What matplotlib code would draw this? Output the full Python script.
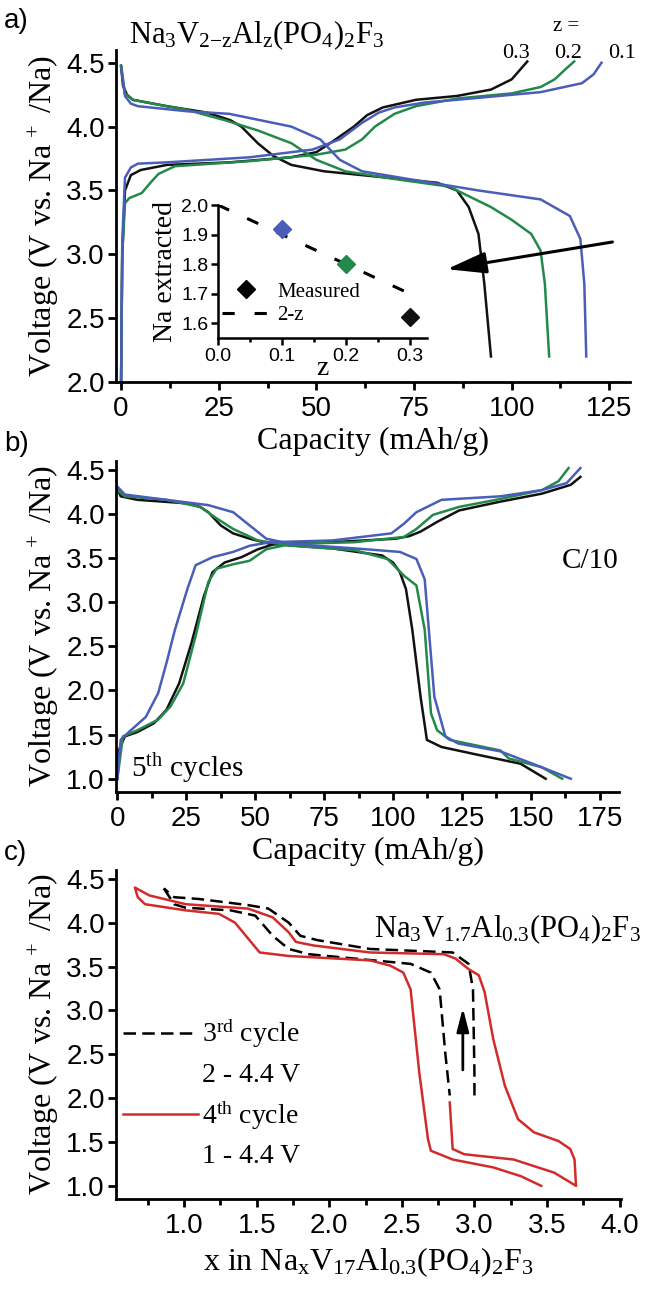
import matplotlib
matplotlib.use("Agg")
import matplotlib.pyplot as plt
from matplotlib.lines import Line2D
from matplotlib.ticker import MultipleLocator, FormatStrFormatter

plt.rcParams['font.family'] = ['Liberation Sans', 'DejaVu Sans']
plt.rcParams['mathtext.fontset'] = 'custom'
plt.rcParams['mathtext.rm'] = 'Liberation Serif'
plt.rcParams['mathtext.it'] = 'Liberation Serif'
plt.rcParams['mathtext.bf'] = 'Liberation Serif:bold'
SERIF = 'Liberation Serif'

BLACK = '#111111'
GREEN = '#23894a'
BLUE = '#4a5db8'
RED = '#d22b2b'

# %% Datos panel a: Na3V2-zAlz(PO4)2F3, capacidad (mAh/g) vs voltaje (V)
a_z03_chg_x = [0, 0.3, 1.0, 2.5, 5, 11.7, 27.7, 43.6, 50, 54, 59.6, 63, 67, 75.5, 86, 94.7, 100, 104]
a_z03_chg_y = [2.0, 3.0, 3.5, 3.62, 3.66, 3.70, 3.72, 3.76, 3.80, 3.88, 4.0, 4.09, 4.15, 4.21, 4.24, 4.29, 4.37, 4.51]
a_z02_chg_x = [0, 0.3, 1.0, 2.1, 5.3, 7.5, 9.6, 13.8, 33, 50, 57.4, 61.7, 65, 70, 75.5, 86, 100, 107.4, 111, 113.8, 116]
a_z02_chg_y = [2.0, 3.0, 3.40, 3.44, 3.48, 3.56, 3.63, 3.69, 3.73, 3.78, 3.82, 3.9, 4.0, 4.1, 4.16, 4.22, 4.26, 4.31, 4.37, 4.45, 4.51]
a_z01_chg_x = [0, 0.3, 1.0, 2.5, 4.3, 11.7, 33, 49, 56, 61.7, 66, 70, 78, 86, 107.4, 118, 121, 123]
a_z01_chg_y = [2.0, 3.1, 3.6, 3.68, 3.71, 3.72, 3.76, 3.82, 3.9, 4.03, 4.11, 4.15, 4.19, 4.21, 4.27, 4.34, 4.41, 4.5]

a_z03_dis_x = [0, 0.5, 1.5, 3, 11.7, 22, 28, 30.8, 35, 39, 43.6, 52, 65, 81, 86, 89, 91.5, 93, 94.7]
a_z03_dis_y = [4.47, 4.32, 4.25, 4.21, 4.16, 4.11, 4.05, 4.0, 3.87, 3.77, 3.70, 3.65, 3.61, 3.56, 3.50, 3.37, 3.16, 2.77, 2.2]
a_z02_dis_x = [0, 1, 3, 6.4, 17, 26.6, 35, 43.6, 50, 57.4, 70, 84, 94.7, 100, 105, 107.4, 108.5, 109.6]
a_z02_dis_y = [4.48, 4.26, 4.21, 4.19, 4.13, 4.05, 3.97, 3.87, 3.74, 3.65, 3.59, 3.53, 3.37, 3.27, 3.16, 3.03, 2.77, 2.2]
a_z01_dis_x = [0, 1, 2.5, 4.3, 17, 27.7, 43.6, 51, 56, 61.7, 75.5, 91.5, 107.4, 114.9, 117.6, 118.6, 119.1]
a_z01_dis_y = [4.47, 4.24, 4.18, 4.16, 4.12, 4.10, 4.0, 3.9, 3.74, 3.65, 3.58, 3.50, 3.43, 3.30, 3.12, 2.77, 2.2]

# Inset: Na extraido vs z
z_vals = [0.1, 0.2, 0.3]
na_extracted = [1.92, 1.80, 1.62]
z_colors = [BLUE, GREEN, BLACK]
z_line = [0.0, 0.3]
na_line = [2.0, 1.7]

# %% Datos panel b: 5o ciclo, C/10
b_z03_chg_x = [0, 0.5, 2.7, 7.3, 13.3, 17.8, 22.4, 26.9, 31.4, 34.5, 38.9, 45, 51, 57, 78, 101, 106, 110, 116, 124, 139, 154, 164.5, 168]
b_z03_chg_y = [1.0, 1.32, 1.48, 1.53, 1.63, 1.78, 2.08, 2.54, 3.07, 3.34, 3.45, 3.51, 3.60, 3.66, 3.68, 3.72, 3.75, 3.80, 3.91, 4.04, 4.14, 4.23, 4.33, 4.42]
b_z02_chg_x = [0, 2, 7.3, 14.8, 19.3, 23.9, 28.4, 33, 36, 42, 48, 54, 63, 86, 104, 108.5, 114.5, 124, 139, 154, 160, 163.7]
b_z02_chg_y = [1.0, 1.48, 1.55, 1.67, 1.82, 2.08, 2.62, 3.23, 3.38, 3.43, 3.47, 3.60, 3.66, 3.68, 3.74, 3.83, 3.99, 4.08, 4.17, 4.27, 4.37, 4.52]
b_z01_chg_x = [0, 1.2, 4.2, 10.3, 14.8, 17.8, 20.9, 25.4, 28.4, 34.5, 42, 48, 55.6, 78, 99.4, 104, 108.5, 117.6, 139, 154, 163, 168]
b_z01_chg_y = [1.0, 1.44, 1.53, 1.70, 1.97, 2.31, 2.69, 3.15, 3.42, 3.51, 3.57, 3.64, 3.68, 3.70, 3.78, 3.89, 4.02, 4.16, 4.20, 4.27, 4.35, 4.52]

b_z03_dis_x = [0, 1.2, 7.3, 25.4, 30, 33, 37.5, 42, 48, 55.6, 78, 96, 100, 102.5, 104.7, 107, 110, 112.3, 117.6, 131, 146.3, 155.4]
b_z03_dis_y = [4.29, 4.20, 4.16, 4.12, 4.08, 4.02, 3.87, 3.78, 3.72, 3.66, 3.61, 3.53, 3.45, 3.34, 3.15, 2.69, 1.93, 1.44, 1.36, 1.27, 1.17, 1.0]
b_z02_dis_x = [0, 2.7, 17.8, 30, 36, 42, 51, 63, 86, 98, 104, 108.5, 111.5, 113.8, 116, 120.6, 139, 142, 154, 161.4]
b_z02_dis_y = [4.27, 4.20, 4.16, 4.08, 3.95, 3.83, 3.70, 3.64, 3.59, 3.49, 3.30, 3.19, 2.69, 1.74, 1.55, 1.44, 1.32, 1.23, 1.13, 1.0]
b_z01_dis_x = [0, 2.7, 17.8, 33, 42, 48, 54, 63, 86, 102.5, 108.5, 111.5, 113, 115, 119, 123.6, 139, 154, 164.5]
b_z01_dis_y = [4.31, 4.22, 4.16, 4.10, 4.02, 3.87, 3.72, 3.66, 3.61, 3.57, 3.49, 3.26, 2.69, 1.93, 1.48, 1.40, 1.31, 1.13, 1.0]

# %% Datos panel c: x en NaxV1.7Al0.3(PO4)2F3
c3_chg_x = [3.0, 3.0, 2.99, 2.96, 2.85, 2.28, 1.92, 1.80, 1.72, 1.58, 1.44, 1.10, 0.93, 0.86]
c3_chg_y = [2.03, 2.29, 3.24, 3.53, 3.66, 3.70, 3.80, 3.85, 4.0, 4.16, 4.20, 4.27, 4.29, 4.39]
c3_dis_x = [0.86, 0.93, 1.01, 1.32, 1.49, 1.61, 1.72, 1.86, 2.56, 2.70, 2.76, 2.80, 2.83]
c3_dis_y = [4.39, 4.21, 4.17, 4.14, 4.08, 3.85, 3.70, 3.64, 3.53, 3.43, 3.24, 2.50, 2.03]
c4_x = [2.83, 2.85, 2.93, 3.27, 3.55, 3.70, 3.69, 3.66, 3.58, 3.41, 3.30, 3.21, 3.13, 3.07, 3.03,
        2.96, 2.87, 2.79, 2.28, 1.89, 1.77, 1.72, 1.61, 1.44, 1.01, 0.76, 0.66, 0.68, 0.73, 1.01,
        1.24, 1.35, 1.44, 1.52, 1.72, 2.28, 2.42, 2.51, 2.56, 2.62, 2.68, 2.70, 2.85, 3.13, 3.32, 3.46]
c4_y = [1.95, 1.42, 1.36, 1.30, 1.15, 1.0, 1.30, 1.42, 1.51, 1.61, 1.76, 2.14, 2.67, 3.21, 3.40,
        3.47, 3.59, 3.64, 3.66, 3.74, 3.78, 3.89, 4.06, 4.16, 4.21, 4.31, 4.40, 4.29, 4.21, 4.14,
        4.10, 4.0, 3.82, 3.66, 3.62, 3.57, 3.51, 3.43, 3.24, 2.29, 1.53, 1.40, 1.30, 1.21, 1.11, 1.0]

# Flechas (anotaciones)
arrow_a = ((126.5, 3.10), (82.7, 2.88))
arrow_c = ((2.92, 2.29), (2.92, 3.06))

LW = 1.8
DASH = (0, (5, 2.5))


def estilo(ax, xmaj, xmin, xfmt, yfmt, labelsize=20):
    for s in ['top', 'right']:
        ax.spines[s].set_visible(False)
    for s in ['left', 'bottom']:
        ax.spines[s].set_linewidth(2)
    ax.tick_params(which='major', direction='out', length=6, width=2, labelsize=labelsize)
    ax.tick_params(which='minor', direction='out', length=4, width=2)
    ax.tick_params(axis='x', pad=4)
    ax.tick_params(axis='y', pad=2)
    ax.xaxis.set_major_locator(MultipleLocator(xmaj))
    ax.xaxis.set_minor_locator(MultipleLocator(xmin))
    ax.yaxis.set_major_locator(MultipleLocator(0.5))
    ax.xaxis.set_major_formatter(FormatStrFormatter(xfmt))
    ax.yaxis.set_major_formatter(FormatStrFormatter(yfmt))


W, H = 652, 1289
fig = plt.figure(figsize=(W / 100, H / 100), dpi=100)

# %% Panel a
ax_a = fig.add_axes([116 / W, 1 - 382 / H, 514 / W, 332 / H])
ax_a.plot(a_z03_chg_x, a_z03_chg_y, color=BLACK, lw=LW)
ax_a.plot(a_z03_dis_x, a_z03_dis_y, color=BLACK, lw=LW)
ax_a.plot(a_z02_chg_x, a_z02_chg_y, color=GREEN, lw=LW)
ax_a.plot(a_z02_dis_x, a_z02_dis_y, color=GREEN, lw=LW)
ax_a.plot(a_z01_chg_x, a_z01_chg_y, color=BLUE, lw=LW)
ax_a.plot(a_z01_dis_x, a_z01_dis_y, color=BLUE, lw=LW)
ax_a.set_xlim(-1.3, 130.3)
ax_a.set_ylim(2.0, 4.6)
estilo(ax_a, 25, 12.5, '%d', '%.1f')
ax_a.set_xlabel('Capacity (mAh/g)', fontfamily=SERIF, fontsize=23)
ax_a.set_ylabel('Voltage (V vs. Na$^{\\,+}$ /Na)', fontfamily=SERIF, fontsize=23)
ax_a.xaxis.set_label_coords(0.5, -0.135)
ax_a.yaxis.set_label_coords(-0.107, 0.5)
ax_a.text(2.0, 4.655, 'Na$_3$V$_{2{-}z}$Al$_z$(PO$_4$)$_2$F$_3$', fontfamily=SERIF,
          fontsize=22, va='baseline', clip_on=False)
ax_a.text(114, 4.75, 'z =', fontfamily=SERIF, fontsize=15, ha='center', va='baseline', clip_on=False)
for xt, lab in zip([101.1, 114.4, 128.3], ['0.3', '0.2', '0.1']):
    ax_a.text(xt, 4.537, lab, fontfamily=SERIF, fontsize=16, ha='center', va='baseline', clip_on=False)
ax_a.annotate('', xy=arrow_a[1], xytext=arrow_a[0],
              arrowprops=dict(arrowstyle='-|>,head_length=1.1,head_width=0.3',
                              mutation_scale=22, lw=2.2, color='k'))

# Inset
ins = fig.add_axes([218 / W, 1 - 338 / H, 209 / W, 133 / H])
ins.patch.set_alpha(0)
ins.plot(z_line, na_line, color='k', lw=2.2, linestyle=(0, (4, 6.5)), label='2-z')
for zv, nv, cc in zip(z_vals, na_extracted, z_colors):
    ins.plot(zv, nv, marker='D', ms=9.5, color=cc, linestyle='none')
ins.set_xlim(0, 0.327)
ins.set_ylim(1.55, 2.0)
for s in ['top', 'right']:
    ins.spines[s].set_visible(False)
for s in ['left', 'bottom']:
    ins.spines[s].set_linewidth(1.8)
ins.tick_params(which='major', direction='out', length=5, width=1.8, labelsize=14, pad=2)
ins.tick_params(which='minor', direction='out', length=3, width=1.8)
ins.xaxis.set_major_locator(MultipleLocator(0.1))
ins.xaxis.set_minor_locator(MultipleLocator(0.05))
ins.yaxis.set_major_locator(MultipleLocator(0.1))
ins.xaxis.set_major_formatter(FormatStrFormatter('%.1f'))
ins.yaxis.set_major_formatter(FormatStrFormatter('%.1f'))
ins.set_xlabel('z', fontfamily=SERIF, fontsize=20, labelpad=-6)
ins.set_ylabel('Na extracted', fontfamily=SERIF, fontsize=20, labelpad=2)
h_meas = Line2D([], [], marker='D', ms=9.5, color='k', linestyle='none')
h_line = Line2D([], [], color='k', lw=2.2, linestyle=(0, (4, 6.5)))
ins.legend([h_meas, h_line], ['Measured', '2-z'], loc='upper left', bbox_to_anchor=(0.02, 0.42),
           frameon=False, prop={'family': SERIF, 'size': 15}, handlelength=2.3,
           handletextpad=0.35, borderpad=0, borderaxespad=0, labelspacing=0.2)

# %% Panel b
ax_b = fig.add_axes([116 / W, 1 - 792 / H, 503 / W, 331 / H])
ax_b.plot(b_z03_chg_x, b_z03_chg_y, color=BLACK, lw=LW)
ax_b.plot(b_z03_dis_x, b_z03_dis_y, color=BLACK, lw=LW)
ax_b.plot(b_z02_chg_x, b_z02_chg_y, color=GREEN, lw=LW)
ax_b.plot(b_z02_dis_x, b_z02_dis_y, color=GREEN, lw=LW)
ax_b.plot(b_z01_chg_x, b_z01_chg_y, color=BLUE, lw=LW)
ax_b.plot(b_z01_dis_x, b_z01_dis_y, color=BLUE, lw=LW)
ax_b.set_xlim(-0.5, 182)
ax_b.set_ylim(0.85, 4.6)
estilo(ax_b, 25, 12.5, '%d', '%.1f')
ax_b.set_xlabel('Capacity (mAh/g)', fontfamily=SERIF, fontsize=23)
ax_b.set_ylabel('Voltage (V vs. Na$^{\\,+}$ /Na)', fontfamily=SERIF, fontsize=23)
ax_b.xaxis.set_label_coords(0.5, -0.135)
ax_b.yaxis.set_label_coords(-0.109, 0.5)
ax_b.text(161.2, 3.39, 'C/10', fontfamily=SERIF, fontsize=21, va='baseline')
ax_b.text(4.9, 1.02, '5$^{\\mathrm{th}}$ cycles', fontfamily=SERIF, fontsize=21, va='baseline')

# %% Panel c
ax_c = fig.add_axes([116 / W, 1 - 1199 / H, 505 / W, 329 / H])
ax_c.plot(c3_chg_x, c3_chg_y, color='k', lw=LW, linestyle=DASH)
ax_c.plot(c3_dis_x, c3_dis_y, color='k', lw=LW, linestyle=DASH)
ax_c.plot(c4_x, c4_y, color=RED, lw=LW)
ax_c.set_xlim(0.53, 4.01)
ax_c.set_ylim(0.85, 4.6)
estilo(ax_c, 0.5, 0.25, '%.1f', '%.1f')
ax_c.set_xlabel('x in Na$_x$V$_{17}$Al$_{0.3}$(PO$_4$)$_2$F$_3$', fontfamily=SERIF, fontsize=23)
ax_c.set_ylabel('Voltage (V vs. Na$^{\\,+}$ /Na)', fontfamily=SERIF, fontsize=23)
ax_c.xaxis.set_label_coords(0.5, -0.14)
ax_c.yaxis.set_label_coords(-0.109, 0.5)
ax_c.text(4.15, 3.836, 'Na$_3$V$_{1.7}$Al$_{0.3}$(PO$_4$)$_2$F$_3$', fontfamily=SERIF,
          fontsize=22, ha='right', va='baseline', clip_on=False)
ax_c.annotate('', xy=arrow_c[1], xytext=arrow_c[0],
              arrowprops=dict(arrowstyle='-|>,head_length=0.7,head_width=0.18',
                              mutation_scale=20, lw=2, color='k'))
h3 = Line2D([], [], color='k', lw=LW, linestyle=DASH)
h4 = Line2D([], [], color=RED, lw=LW)
hb = Line2D([], [], color='none')
ax_c.legend([h3, hb, h4, hb], ['3$^{\\mathrm{rd}}$ cycle', '2 - 4.4 V', '4$^{\\mathrm{th}}$ cycle', '1 - 4.4 V'],
            loc='upper left', bbox_to_anchor=(0.014, 0.55), frameon=False,
            prop={'family': SERIF, 'size': 20}, handlelength=2.7, handletextpad=0.15,
            borderpad=0, borderaxespad=0, labelspacing=0.42)

# Etiquetas de panel
fig.text(0.006, 1 - 21 / H, 'a)', fontsize=20, va='center')
fig.text(0.006, 1 - 444 / H, 'b)', fontsize=20, va='center')
fig.text(0.006, 1 - 853 / H, 'c)', fontsize=20, va='center')

fig.savefig('out.png', dpi=100)
